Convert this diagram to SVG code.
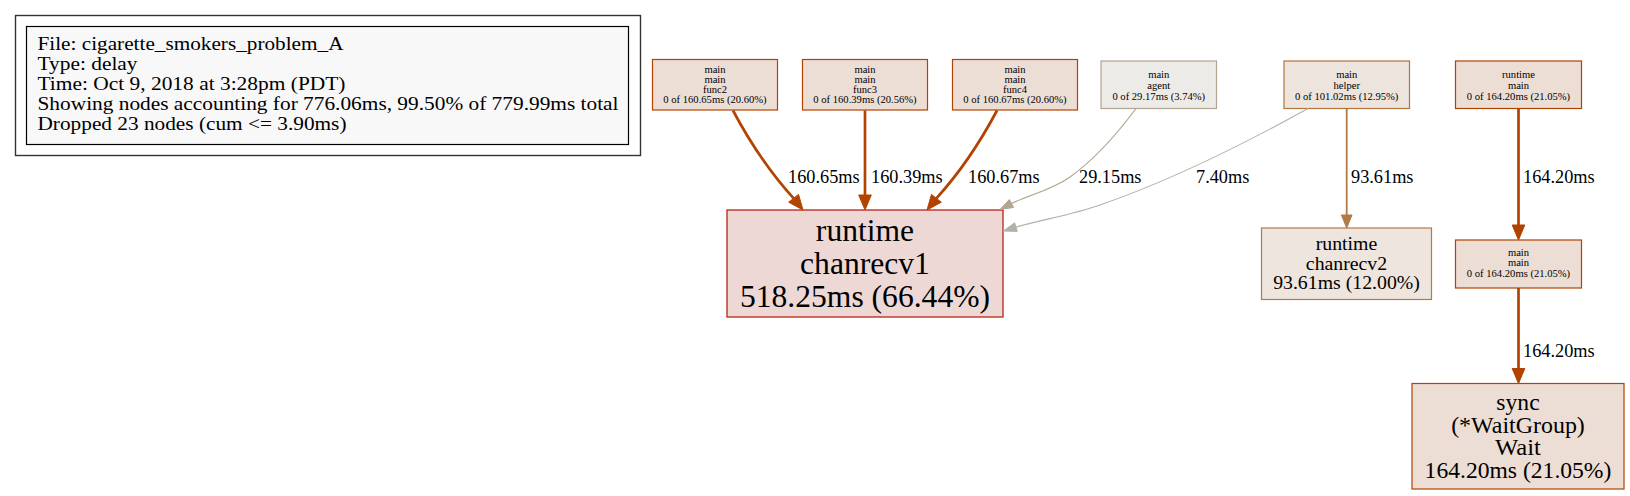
<svg xmlns="http://www.w3.org/2000/svg" width="1630" height="496" viewBox="0 0 1630 496">
<style>
text{font-family:"Liberation Serif","Times New Roman",serif;fill:#000}
.lg{font-size:19.6px}
.sm{font-size:10.6px;text-anchor:middle}
.el{font-size:18.3px}
.c1{font-size:31.6px;text-anchor:middle}
.c2{font-size:19.8px;text-anchor:middle}
.sy{font-size:22.2px;text-anchor:middle}
.n{stroke-width:1.2}
.e{fill:none}
.hot{stroke:#b24300;stroke-width:2.7}
.hotA{fill:#b24300;stroke:#b24300;stroke-width:1}
.ag{stroke:#b2a691;stroke-width:1.2}
.agA{fill:#b2a691;stroke:#b2a691;stroke-width:1}
.hl{stroke:#b2b0aa;stroke-width:1.1}
.hlA{fill:#b2b0aa;stroke:#b2b0aa;stroke-width:1}
.c2e{stroke:#b27947;stroke-width:1.8}
.c2A{fill:#b27947;stroke:#b27947;stroke-width:1}
</style>
<rect width="1630" height="496" fill="#ffffff"/>
<g id="legend">
<rect x="15.5" y="15.5" width="625" height="140" fill="none" stroke="#333" stroke-width="1.4"/>
<rect x="26.5" y="26.5" width="602" height="118" fill="#f8f8f8" stroke="#000" stroke-width="1.2"/>
<text class="lg" x="37.5" y="49.5" textLength="306" lengthAdjust="spacingAndGlyphs">File: cigarette_smokers_problem_A</text>
<text class="lg" x="37.5" y="69.5" textLength="100" lengthAdjust="spacingAndGlyphs">Type: delay</text>
<text class="lg" x="37.5" y="89.5" textLength="308" lengthAdjust="spacingAndGlyphs">Time: Oct 9, 2018 at 3:28pm (PDT)</text>
<text class="lg" x="37.5" y="109.5" textLength="581" lengthAdjust="spacingAndGlyphs">Showing nodes accounting for 776.06ms, 99.50% of 779.99ms total</text>
<text class="lg" x="37.5" y="129.5" textLength="309" lengthAdjust="spacingAndGlyphs">Dropped 23 nodes (cum &lt;= 3.90ms)</text>
</g>
<g id="node_func2">
<rect class="n" x="652.5" y="59.5" width="125" height="50.5" fill="#edded5" stroke="#b24300"/>
<text class="sm" x="715" y="72.5">main</text>
<text class="sm" x="715" y="82.8">main</text>
<text class="sm" x="715" y="93.1">func2</text>
<text class="sm" x="715" y="103.4">0 of 160.65ms (20.60%)</text>
</g>
<g id="node_func3">
<rect class="n" x="802.5" y="59.5" width="125" height="50.5" fill="#edded5" stroke="#b24300"/>
<text class="sm" x="865" y="72.5">main</text>
<text class="sm" x="865" y="82.8">main</text>
<text class="sm" x="865" y="93.1">func3</text>
<text class="sm" x="865" y="103.4">0 of 160.39ms (20.56%)</text>
</g>
<g id="node_func4">
<rect class="n" x="952.5" y="59.5" width="125" height="50.5" fill="#edded5" stroke="#b24300"/>
<text class="sm" x="1015" y="72.5">main</text>
<text class="sm" x="1015" y="82.8">main</text>
<text class="sm" x="1015" y="93.1">func4</text>
<text class="sm" x="1015" y="103.4">0 of 160.67ms (20.60%)</text>
</g>
<g id="node_agent">
<rect class="n" x="1101" y="61" width="115.5" height="47.5" fill="#edebe8" stroke="#b2a691"/>
<text class="sm" x="1158.75" y="78">main</text>
<text class="sm" x="1158.75" y="89">agent</text>
<text class="sm" x="1158.75" y="100">0 of 29.17ms (3.74%)</text>
</g>
<g id="node_helper">
<rect class="n" x="1284" y="61" width="125.5" height="47.5" fill="#ede4dd" stroke="#b2733e"/>
<text class="sm" x="1346.75" y="78">main</text>
<text class="sm" x="1346.75" y="89">helper</text>
<text class="sm" x="1346.75" y="100">0 of 101.02ms (12.95%)</text>
</g>
<g id="node_runtime_main">
<rect class="n" x="1455.5" y="61" width="126" height="47.5" fill="#edded5" stroke="#b24200"/>
<text class="sm" x="1518.5" y="78">runtime</text>
<text class="sm" x="1518.5" y="89">main</text>
<text class="sm" x="1518.5" y="100">0 of 164.20ms (21.05%)</text>
</g>
<g id="node_chanrecv1">
<rect class="n" x="727" y="210" width="276" height="107" fill="#edd8d5" stroke="#b21400"/>
<text class="c1" x="865" y="241">runtime</text>
<text class="c1" x="865" y="274">chanrecv1</text>
<text class="c1" x="865" y="307">518.25ms (66.44%)</text>
</g>
<g id="node_chanrecv2">
<rect class="n" x="1261.5" y="228" width="170" height="71.5" fill="#ede5de" stroke="#b27947"/>
<text class="c2" x="1346.5" y="249.5">runtime</text>
<text class="c2" x="1346.5" y="269.5">chanrecv2</text>
<text class="c2" x="1346.5" y="289">93.61ms (12.00%)</text>
</g>
<g id="node_main_main">
<rect class="n" x="1455.5" y="240" width="126" height="48" fill="#edded5" stroke="#b24200"/>
<text class="sm" x="1518.5" y="255.5">main</text>
<text class="sm" x="1518.5" y="266">main</text>
<text class="sm" x="1518.5" y="276.5">0 of 164.20ms (21.05%)</text>
</g>
<g id="node_sync_wait">
<rect class="n" x="1412" y="383.5" width="212" height="105.5" fill="#edded5" stroke="#b24200"/>
<text class="sy" x="1518" y="410" textLength="43.3" lengthAdjust="spacingAndGlyphs">sync</text>
<text class="sy" x="1518" y="432.7" textLength="133.7" lengthAdjust="spacingAndGlyphs">(*WaitGroup)</text>
<text class="sy" x="1518" y="455.4" textLength="45.9" lengthAdjust="spacingAndGlyphs">Wait</text>
<text class="sy" x="1518" y="478.1" textLength="186.8" lengthAdjust="spacingAndGlyphs">164.20ms (21.05%)</text>
</g>
<g id="connectors">
<path class="e hot" d="M733,110.5 C746,135 766,168 793.6,198.3"/>
<polygon class="hotA" points="788.7,202.2 803,210 798.5,194.4"/>
<text class="el" x="788" y="183">160.65ms</text>
<path class="e hot" d="M865,110.5 L865,195"/>
<polygon class="hotA" points="858.7,195 865,210 871.3,195"/>
<text class="el" x="871" y="183">160.39ms</text>
<path class="e hot" d="M997,110.5 C984,135 964,168 936.4,198.3"/>
<polygon class="hotA" points="941.3,202.2 927,210 931.5,194.4"/>
<text class="el" x="968" y="183">160.67ms</text>
<path class="e ag" d="M1136,108.5 C1120,130 1098,157 1070,177 C1052,190 1030,194.5 1011.5,203.5"/>
<polygon class="agA" points="1013.6,207.5 1000,209.5 1009.4,199.5"/>
<text class="el" x="1079" y="183">29.15ms</text>
<path class="e hl" d="M1308,108.5 C1262,134 1178,178 1100,205 C1072,215 1044,219 1015.9,227.1"/>
<polygon class="hlA" points="1017.3,231.4 1003.5,231 1014.6,222.8"/>
<text class="el" x="1196" y="183">7.40ms</text>
<path class="e c2e" d="M1346.7,108.5 L1346.7,215"/>
<polygon class="c2A" points="1341.4,215 1346.7,228 1352,215"/>
<text class="el" x="1351" y="183">93.61ms</text>
<path class="e hot" d="M1518.5,108.5 L1518.5,225" style="stroke:#b24200"/>
<polygon class="hotA" points="1512.2,225 1518.5,240 1524.8,225" style="fill:#b24200;stroke:#b24200"/>
<text class="el" x="1523" y="183">164.20ms</text>
<path class="e hot" d="M1518.5,288 L1518.5,368.5" style="stroke:#b24200"/>
<polygon class="hotA" points="1512.2,368.5 1518.5,383.5 1524.8,368.5" style="fill:#b24200;stroke:#b24200"/>
<text class="el" x="1523" y="356.5">164.20ms</text>
</g>
</svg>
